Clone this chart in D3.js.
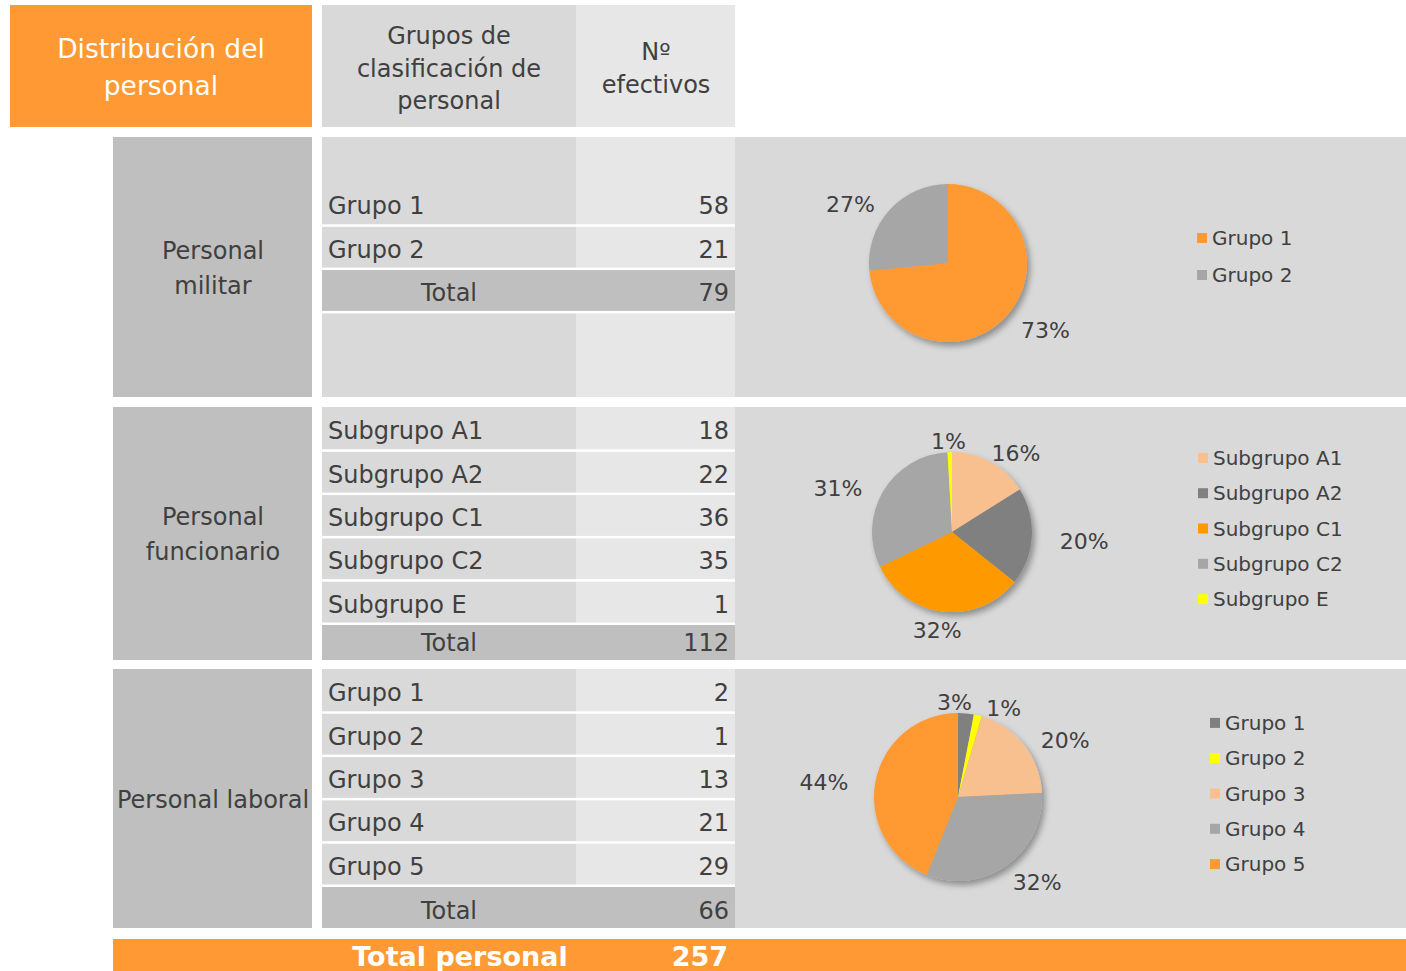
<!DOCTYPE html>
<html><head><meta charset="utf-8">
<script src="https://cdn.jsdelivr.net/npm/d3@7"></script>
<style>html,body{margin:0;padding:0;background:#fff;}svg{display:block;font-family:'DejaVu Sans',Verdana,sans-serif;}</style>
</head><body>
<svg id="chart" width="1406" height="971"></svg>
<script>
// ---- data ----
const militarLabels = ["Grupo 1", "Grupo 2"];
const militarValues = [58, 21];
const funcionarioLabels = ["Subgrupo A1", "Subgrupo A2", "Subgrupo C1", "Subgrupo C2", "Subgrupo E"];
const funcionarioValues = [18, 22, 36, 35, 1];
const laboralLabels = ["Grupo 1", "Grupo 2", "Grupo 3", "Grupo 4", "Grupo 5"];
const laboralValues = [2, 1, 13, 21, 29];

// ---- styles ----
const ORANGE = "#FF9933";
const militarColors = ["#FF9933", "#A6A6A6"];
const funcionarioColors = ["#F8BF8F", "#808080", "#FF9900", "#A6A6A6", "#FFFF00"];
const laboralColors = ["#808080", "#FFFF00", "#F8BF8F", "#A6A6A6", "#FF9933"];
const TXT = "#404040";

const sections = [
  {name: ["Personal", "militar"], labels: militarLabels, values: militarValues, colors: militarColors,
   top: 137, bottom: 397, rowTop: 182, pie: {cx: 948, cy: 263, r: 79}, legendX: 1197, legendCY: 256.5, legendGap: 37},
  {name: ["Personal", "funcionario"], labels: funcionarioLabels, values: funcionarioValues, colors: funcionarioColors,
   top: 407, bottom: 660, rowTop: 407, pie: {cx: 952, cy: 532, r: 80}, legendX: 1198, legendCY: 528.5, legendGap: 35.3},
  {name: ["Personal laboral"], labels: laboralLabels, values: laboralValues, colors: laboralColors,
   top: 669, bottom: 928, rowTop: 669, pie: {cx: 958, cy: 797, r: 84}, legendX: 1210, legendCY: 793.5, legendGap: 35.3}
];

const svg = d3.select("#chart");
const defs = svg.append("defs");
const f = defs.append("filter").attr("id", "shadow").attr("x", "-20%").attr("y", "-20%").attr("width", "150%").attr("height", "150%");
f.append("feDropShadow").attr("dx", 3).attr("dy", 4).attr("stdDeviation", 3).attr("flood-color", "#000").attr("flood-opacity", 0.35);

// percentages with largest remainder rounding
function pctRound(vals) {
  const tot = d3.sum(vals);
  const raw = vals.map(v => v / tot * 100);
  const fl = raw.map(Math.floor);
  let rem = 100 - d3.sum(fl);
  const order = raw.map((v, i) => [v - Math.floor(v), i]).sort((a, b) => b[0] - a[0]);
  for (let k = 0; k < rem; k++) fl[order[k][1]] += 1;
  return fl;
}

// ---- header ----
svg.append("rect").attr("x", 10).attr("y", 5).attr("width", 302).attr("height", 122).attr("fill", ORANGE);
svg.append("text").attr("fill", "#fff").attr("font-size", 26.5).attr("text-anchor", "middle")
  .selectAll("tspan").data(["Distribución del", "personal"]).join("tspan")
  .attr("x", 161).attr("y", (d, i) => 58 + i * 37).text(d => d);

svg.append("rect").attr("x", 322).attr("y", 5).attr("width", 254).attr("height", 122).attr("fill", "#D9D9D9");
svg.append("rect").attr("x", 576).attr("y", 5).attr("width", 159).attr("height", 122).attr("fill", "#E7E7E7");
svg.append("text").attr("fill", TXT).attr("font-size", 24).attr("text-anchor", "middle")
  .selectAll("tspan").data(["Grupos de", "clasificación de", "personal"]).join("tspan")
  .attr("x", 449).attr("y", (d, i) => 44 + i * 32.5).text(d => d);
svg.append("text").attr("fill", TXT).attr("font-size", 24).attr("text-anchor", "middle")
  .selectAll("tspan").data(["Nº", "efectivos"]).join("tspan")
  .attr("x", 656).attr("y", (d, i) => 60 + i * 32.5).text(d => d);

// ---- sections ----
const rowH = 43.3;
sections.forEach(sec => {
  const g = svg.append("g");
  const h = sec.bottom - sec.top;
  // left label box
  g.append("rect").attr("x", 113).attr("y", sec.top).attr("width", 199).attr("height", h).attr("fill", "#BFBFBF");
  const mid = (sec.top + sec.bottom) / 2;
  const n = sec.name.length;
  g.append("text").attr("fill", TXT).attr("font-size", 24).attr("text-anchor", "middle")
    .selectAll("tspan").data(sec.name).join("tspan")
    .attr("x", 213).attr("y", (d, i) => mid + 9 + (i - (n - 1) / 2) * 35).text(d => d);
  // table column backgrounds
  g.append("rect").attr("x", 322).attr("y", sec.top).attr("width", 254).attr("height", h).attr("fill", "#D9D9D9");
  g.append("rect").attr("x", 576).attr("y", sec.top).attr("width", 159).attr("height", h).attr("fill", "#E7E7E7");
  // chart area
  g.append("rect").attr("x", 735).attr("y", sec.top).attr("width", 671).attr("height", h).attr("fill", "#D9D9D9");

  const rows = sec.labels.map((l, i) => ({label: l, value: sec.values[i], total: false}));
  rows.push({label: "Total", value: d3.sum(sec.values), total: true});
  rows.forEach((r, i) => {
    const y0 = sec.rowTop + i * rowH;
    const y1 = Math.min(sec.rowTop + (i + 1) * rowH, sec.bottom);
    const by = r.total && y1 === sec.bottom ? y1 - 9 : y1 - 11;
    if (r.total) {
      g.append("rect").attr("x", 322).attr("y", y0 + 1.5).attr("width", 413).attr("height", y1 - y0 - 1.5).attr("fill", "#BFBFBF");
      g.append("text").attr("x", 449).attr("y", by).attr("text-anchor", "middle").attr("font-size", 24).attr("fill", TXT).text(r.label);
    } else {
      g.append("text").attr("x", 328).attr("y", by).attr("font-size", 24).attr("fill", TXT).text(r.label);
    }
    g.append("text").attr("x", 729).attr("y", by).attr("text-anchor", "end").attr("font-size", 24).attr("fill", TXT).text(r.value);
    if (i < rows.length - 1 || y1 < sec.bottom) {
      g.append("rect").attr("x", 322).attr("y", y1 - 1).attr("width", 413).attr("height", 2.5).attr("fill", "#fff");
    }
  });

  // pie
  const {cx, cy, r} = sec.pie;
  const pie = d3.pie().sort(null).value(d => d)(sec.values);
  const arc = d3.arc().innerRadius(0).outerRadius(r);
  const color = d3.scaleOrdinal().domain(sec.labels).range(sec.colors);
  const pg = g.append("g").attr("transform", `translate(${cx},${cy})`);
  pg.append("g").attr("filter", "url(#shadow)").selectAll("path").data(pie).join("path")
    .attr("d", arc).attr("fill", (d, i) => color(sec.labels[i]));

  // labels (best-fit style, outside end, adjacent labels pushed apart)
  const pcts = pctRound(sec.values);
  const fs = 22, lh = 22, padX = 28, padY = 4, shiftY = 4;
  const labs = pie.map((d, i) => {
    const t = pg.append("text").attr("font-size", fs).attr("fill", TXT).attr("text-anchor", "middle").text(pcts[i] + "%");
    return {t, w: t.node().getComputedTextLength(), a: (d.startAngle + d.endAngle) / 2};
  });
  const posOf = L => {
    const dx = Math.sin(L.a), dy = -Math.cos(L.a);
    return {x: dx * (r + padX) + dx * L.w / 2, y: dy * (r + padY) + dy * lh / 2 + shiftY};
  };
  const overl = (A, B) => {
    const p = posOf(A), q = posOf(B);
    return Math.abs(p.x - q.x) < (A.w + B.w) / 2 + 10 && Math.abs(p.y - q.y) < lh;
  };
  for (let it = 0; it < 60; it++) {
    let moved = false;
    for (let i = 0; i < labs.length - 1; i++) {
      if (overl(labs[i], labs[i + 1])) {
        labs[i].a -= Math.PI / 180; labs[i + 1].a += Math.PI / 180; moved = true;
      }
    }
    if (!moved) break;
  }
  labs.forEach(L => { const p = posOf(L); L.t.attr("x", p.x).attr("y", p.y + fs * 0.36); });

  // legend
  const nL = sec.labels.length;
  const lg = g.append("g");
  sec.labels.forEach((l, i) => {
    const y = sec.legendCY + (i - (nL - 1) / 2) * sec.legendGap;
    lg.append("rect").attr("x", sec.legendX).attr("y", y - 5).attr("width", 10).attr("height", 10).attr("fill", color(l));
    lg.append("text").attr("x", sec.legendX + 15).attr("y", y + 7).attr("font-size", 20).attr("fill", TXT).text(l);
  });
});

// ---- grand total ----
const grand = d3.sum(militarValues) + d3.sum(funcionarioValues) + d3.sum(laboralValues);
svg.append("rect").attr("x", 113).attr("y", 939).attr("width", 1293).attr("height", 40).attr("fill", ORANGE);
svg.append("text").attr("x", 460).attr("y", 966).attr("text-anchor", "middle").attr("font-size", 27).attr("font-weight", "bold").attr("fill", "#fff").text("Total personal");
svg.append("text").attr("x", 728).attr("y", 966).attr("text-anchor", "end").attr("font-size", 27).attr("font-weight", "bold").attr("fill", "#fff").text(grand);
</script>
</body></html>
